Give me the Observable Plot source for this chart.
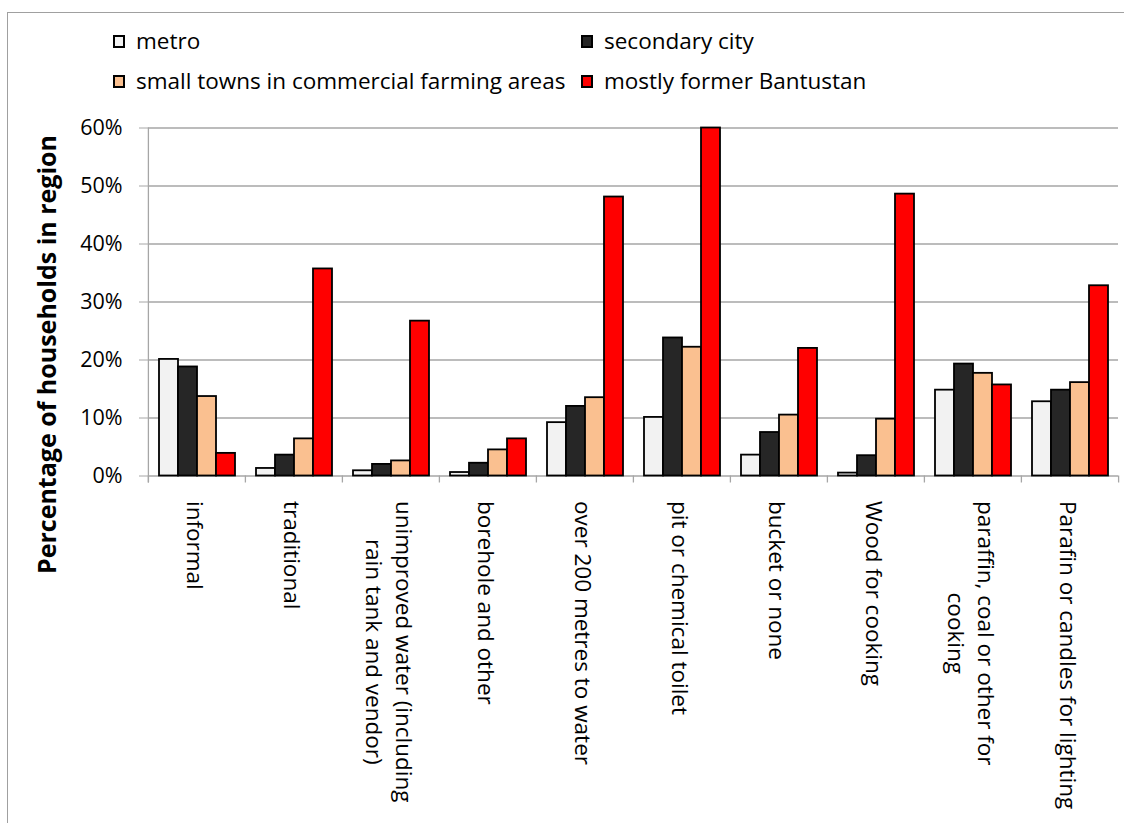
<!DOCTYPE html>
<html>
<head>
<meta charset="utf-8">
<script src="https://cdn.jsdelivr.net/npm/d3@7"></script>
<script src="https://cdn.jsdelivr.net/npm/@observablehq/plot@0.6"></script>
<style>
  html, body { margin: 0; padding: 0; background: #fff; overflow: hidden; }
  #wrap { position: relative; width: 1124px; height: 823px; overflow: hidden; font-family: "Open Sans", sans-serif; }
  #border { position: absolute; left: 7px; top: 12px; width: 1300px; height: 1000px;
            border-left: 1.5px solid #a0a0a0; border-top: 1.5px solid #a0a0a0; pointer-events: none; z-index: 2; }
  #legend { position: relative; height: 100px; }
  #legend .sw { position: absolute; width: 12px; height: 13px; box-sizing: border-box; border: 2px solid #000; }
  #legend .lab { position: absolute; font-size: 22.5px; line-height: 1; white-space: nowrap; color: #000; }
  #wrap svg { display: block; }
</style>
</head>
<body>
<div id="wrap">
  <div id="border"></div>
  <div id="legend"></div>
</div>
<script>
// Dwelling, water, sanitation and energy indicators by settlement type
const categories = [
  "informal",
  "traditional",
  "unimproved water (including\nrain tank and vendor)",
  "borehole and other",
  "over 200 metres to water",
  "pit or chemical toilet",
  "bucket or none",
  "Wood for cooking",
  "paraffin, coal or other for\ncooking",
  "Parafin or candles for lighting"
];

const series = ["metro", "secondary city", "small towns in commercial farming areas", "mostly former Bantustan"];
const seriesColors = ["#f2f2f2", "#262626", "#fac090", "#ff0000"];

// percentage of households in each region type
const metro           = [20.1,  1.3,  0.9, 0.6,  9.2, 10.1,  3.6,  0.5, 14.8, 12.8];
const secondaryCity   = [18.8,  3.6,  2.0, 2.2, 12.0, 23.8,  7.5,  3.5, 19.3, 14.8];
const smallTowns      = [13.7,  6.4,  2.6, 4.5, 13.5, 22.2, 10.5,  9.8, 17.7, 16.1];
const formerBantustan = [ 3.9, 35.7, 26.7, 6.4, 48.1, 60.0, 22.0, 48.6, 15.7, 32.8];

const yTicks = [0, 10, 20, 30, 40, 50, 60];
const yTitle = "Percentage of households in region";

const seriesValues = [metro, secondaryCity, smallTowns, formerBantustan];
const rows = categories.flatMap((category, i) =>
  series.map((s, j) => ({category, series: s, value: seriesValues[j][i]}))
);

// legend: two columns, two rows
const legend = document.getElementById("legend");
const legendCols = [113, 581];
const legendRows = [35, 75];
series.forEach((s, i) => {
  const left = legendCols[i % 2], top = legendRows[Math.floor(i / 2)];
  const sw = document.createElement("span");
  sw.className = "sw";
  sw.style.left = left + "px";
  sw.style.top = top + "px";
  sw.style.background = seriesColors[i];
  const lab = document.createElement("span");
  lab.className = "lab";
  lab.style.left = (left + 23) + "px";
  lab.style.top = (top - 5) + "px";
  lab.textContent = s;
  legend.append(sw, lab);
});

const W = 1124, H = 723, mL = 147, mR = 5, mT = 27.5, mB = 347.5;
const step = (W - mL - mR) / categories.length;
const grey = "#a6a6a6";

const chart = Plot.plot({
  width: W,
  height: H,
  marginLeft: mL,
  marginRight: mR,
  marginTop: mT,
  marginBottom: mB,
  style: {background: "transparent", fontFamily: "'Open Sans', sans-serif", overflow: "visible"},
  fx: {domain: categories, padding: 0, axis: null},
  x: {domain: series, paddingInner: 0, paddingOuter: 0.5, axis: null},
  y: {domain: [0, 60], axis: null},
  color: {domain: series, range: seriesColors},
  marks: [
    Plot.gridY(yTicks, {stroke: grey, strokeOpacity: 1, strokeWidth: 1.3}),
    // vertical axis line
    Plot.ruleX([categories[0]], {fx: d => d, x: null, y1: 60, y2: 0, insetBottom: -7, dx: -step / 2, stroke: grey, strokeWidth: 1.3}),
    // category separator ticks below the baseline
    Plot.ruleX(categories, {fx: d => d, x: null, y1: 0, y2: 0, insetBottom: -7, dx: -step / 2, stroke: grey, strokeWidth: 1.3}),
    Plot.ruleX([categories[categories.length - 1]], {fx: d => d, x: null, y1: 0, y2: 0, insetBottom: -7, dx: step / 2, stroke: grey, strokeWidth: 1.3}),
    Plot.barY(rows, {fx: "category", x: "series", y1: 0, y2: "value", fill: "series", stroke: "#000", strokeWidth: 1.8}),
    Plot.axisY(yTicks, {tickSize: 9, tickPadding: 17, tickFormat: d => d + "%", stroke: grey, strokeOpacity: 1, fontSize: 21.5, label: null}),
    Plot.text(categories, {
      fx: d => d, text: d => d, frameAnchor: "bottom", rotate: 90,
      textAnchor: "start", lineAnchor: "middle", lineHeight: 1.33, dy: 25, fontSize: 22.5, fill: "#000"
    }),
    Plot.text([categories[0]], {
      fx: d => d, text: () => yTitle, frameAnchor: "left", rotate: -90,
      textAnchor: "middle", lineAnchor: "middle",
      dx: -101, dy: 52.5, fontSize: 25, fontWeight: "bold", fill: "#000"
    })
  ]
});

document.getElementById("wrap").append(chart);

// center the wrapped lines of multi-line category labels on each other
function centerLines() {
  chart.querySelectorAll("text").forEach(t => {
    const spans = t.querySelectorAll("tspan");
    if (spans.length < 2) return;
    spans.forEach(s => s.setAttribute("x", 0));
    const lens = Array.from(spans, s => s.getComputedTextLength());
    const max = Math.max(...lens);
    spans.forEach((s, i) => s.setAttribute("x", (max - lens[i]) / 2));
  });
}
centerLines();
if (document.fonts && document.fonts.ready) document.fonts.ready.then(centerLines);
</script>
</body>
</html>
